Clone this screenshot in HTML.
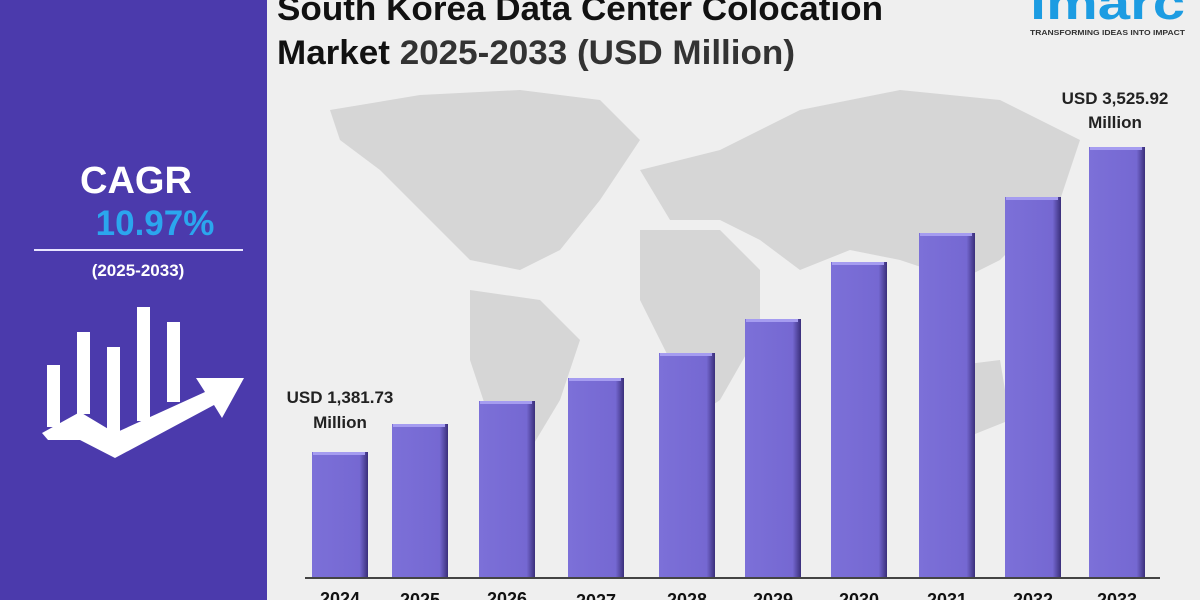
<!DOCTYPE html>
<html><head><meta charset="utf-8"><style>
body{margin:0;width:1200px;height:600px;overflow:hidden;background:#f0f0f0;font-family:"Liberation Sans",sans-serif;}
</style></head><body>
<svg width="1200" height="600" viewBox="0 0 1200 600" xmlns="http://www.w3.org/2000/svg" style="position:absolute;left:0;top:0">
<defs>
<linearGradient id="bg" x1="0" x2="1"><stop offset="0" stop-color="#7c70d8"/><stop offset="0.85" stop-color="#7568d2"/><stop offset="1" stop-color="#3a2f7a"/></linearGradient>
</defs>
<rect x="0" y="0" width="267" height="600" fill="#4b3aac"/>
<rect x="267" y="0" width="933" height="600" fill="#efefef"/>
<g fill="#d6d6d6">
<path d="M330,110 L420,95 L520,90 L600,100 L640,140 L600,200 L560,250 L520,270 L470,260 L430,220 L380,170 L340,140Z"/>
<path d="M470,290 L540,300 L580,340 L560,400 L530,450 L510,470 L490,420 L470,360Z"/>
<path d="M640,170 L720,150 L800,110 L900,90 L1000,100 L1080,140 L1060,200 L1000,260 L960,280 L900,260 L850,250 L800,270 L760,240 L720,220 L670,220Z"/>
<path d="M640,230 L720,230 L760,270 L760,330 L720,400 L690,420 L670,360 L640,300Z"/>
<path d="M920,370 L1000,360 L1010,420 L960,440 L920,420Z"/>
</g>
<text x="277" y="20" font-size="34" font-weight="bold" fill="#111" textLength="606" lengthAdjust="spacingAndGlyphs">South Korea Data Center Colocation</text>
<text x="277" y="64" font-size="34" font-weight="bold" fill="#111" textLength="518" lengthAdjust="spacingAndGlyphs">Market <tspan fill="#333">2025-2033 (USD Million)</tspan></text>
<text x="1030" y="19" font-size="46" font-weight="bold" fill="#1c9ce2" textLength="155" lengthAdjust="spacingAndGlyphs">imarc</text>
<text x="1030" y="35" font-size="7" font-weight="bold" fill="#333" textLength="155" lengthAdjust="spacingAndGlyphs">TRANSFORMING IDEAS INTO IMPACT</text>
<text x="136" y="193" font-size="38" font-weight="bold" fill="#fff" text-anchor="middle">CAGR</text>
<text x="155" y="235" font-size="35" font-weight="bold" fill="#2ba6ee" text-anchor="middle">10.97%</text>
<rect x="34" y="249" width="209" height="2" fill="#e8e4ff"/>
<text x="138" y="276" font-size="17" font-weight="bold" fill="#fff" text-anchor="middle">(2025-2033)</text>
<g fill="#fff">
<rect x="47" y="365" width="13" height="62"/>
<rect x="77" y="332" width="13" height="82"/>
<rect x="107" y="347" width="13" height="90"/>
<rect x="137" y="307" width="13" height="114"/>
<rect x="167" y="322" width="13" height="80"/>
<path d="M42,433 L80,412 L115,433 L205,392 L196,378 L244,378 L222,418 L214,405 L115,458 L80,440 L48,440Z"/>
</g>
<g>
<rect x="312" y="452" width="56" height="126" fill="url(#bg)"/>
<rect x="392" y="424" width="56" height="154" fill="url(#bg)"/>
<rect x="479" y="401" width="56" height="177" fill="url(#bg)"/>
<rect x="568" y="378" width="56" height="200" fill="url(#bg)"/>
<rect x="659" y="353" width="56" height="225" fill="url(#bg)"/>
<rect x="745" y="319" width="56" height="259" fill="url(#bg)"/>
<rect x="831" y="262" width="56" height="316" fill="url(#bg)"/>
<rect x="919" y="233" width="56" height="345" fill="url(#bg)"/>
<rect x="1005" y="197" width="56" height="381" fill="url(#bg)"/>
<rect x="1089" y="147" width="56" height="431" fill="url(#bg)"/>
</g>
<g fill="#a59cf0">
<rect x="313" y="452" width="52" height="3"/><rect x="393" y="424" width="52" height="3"/><rect x="480" y="401" width="52" height="3"/><rect x="569" y="378" width="52" height="3"/><rect x="660" y="353" width="52" height="3"/><rect x="746" y="319" width="52" height="3"/><rect x="832" y="262" width="52" height="3"/><rect x="920" y="233" width="52" height="3"/><rect x="1006" y="197" width="52" height="3"/><rect x="1090" y="147" width="52" height="3"/>
</g>
<rect x="305" y="577" width="855" height="2" fill="#444"/>
<text x="340" y="403" font-size="17" font-weight="bold" fill="#222" text-anchor="middle">USD 1,381.73</text>
<text x="340" y="428" font-size="17" font-weight="bold" fill="#222" text-anchor="middle">Million</text>
<text x="1115" y="104" font-size="17" font-weight="bold" fill="#222" text-anchor="middle">USD 3,525.92</text>
<text x="1115" y="128" font-size="17" font-weight="bold" fill="#222" text-anchor="middle">Million</text>
<g font-size="18" font-weight="bold" fill="#111" text-anchor="middle">
<text x="340" y="605">2024</text><text x="420" y="606">2025</text><text x="507" y="605">2026</text><text x="596" y="607">2027</text><text x="687" y="606">2028</text><text x="773" y="606">2029</text><text x="859" y="606">2030</text><text x="947" y="606">2031</text><text x="1033" y="606">2032</text><text x="1117" y="606">2033</text>
</g>
</svg>
</body></html>
